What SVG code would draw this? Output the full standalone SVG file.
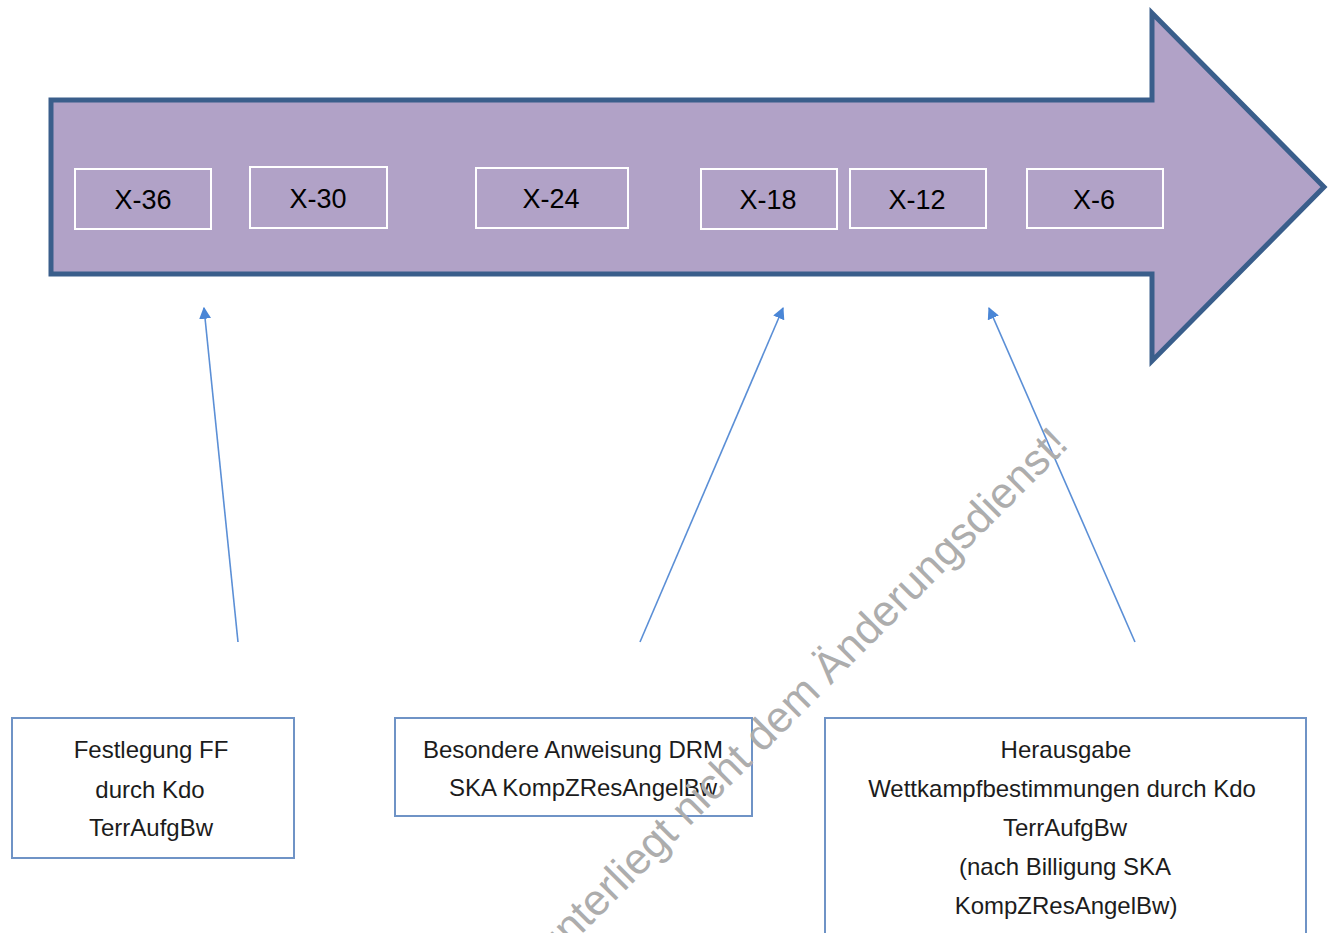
<svg xmlns="http://www.w3.org/2000/svg" width="1328" height="933" viewBox="0 0 1328 933">
<defs>
<style>
.arrowShape{fill:#b1a2c7;stroke:#3a5e8b;stroke-width:5;stroke-linejoin:miter}
.xbox{fill:none;stroke:#ffffff;stroke-width:2}
.xlbl{font-family:"Liberation Sans",Arial,sans-serif;font-size:27px;fill:#000;text-anchor:middle}
.nbox{fill:#ffffff;stroke:#6f93c6;stroke-width:2}
.ntxt{font-family:"Liberation Sans",Arial,sans-serif;font-size:24px;fill:#1c1c1c;text-anchor:middle}
.conn{stroke:#5b8fd6;stroke-width:1.6;fill:none}
.wm{font-family:"Liberation Sans",Arial,sans-serif;font-size:43.5px;fill:#adadad}
</style>
<marker id="ah" viewBox="0 0 10 10" refX="9" refY="5" markerWidth="12" markerHeight="12" markerUnits="userSpaceOnUse" orient="auto">
<path d="M0,0 L10,5 L0,10 Z" fill="#4a86d6"/>
</marker>
</defs>
<rect width="1328" height="933" fill="#ffffff"/>
<g id="timeline">
<path class="arrowShape" d="M51,100 L1152,100 L1152,13 L1324,187 L1152,361 L1152,274 L51,274 Z"/>
</g>
<g id="x36"><rect class="xbox" x="75" y="169" width="136" height="60"/><text class="xlbl" x="143" y="209">X-36</text></g>
<g id="x30"><rect class="xbox" x="250" y="167" width="137" height="61"/><text class="xlbl" x="318" y="208">X-30</text></g>
<g id="x24"><rect class="xbox" x="476" y="168" width="152" height="60"/><text class="xlbl" x="551" y="208">X-24</text></g>
<g id="x18"><rect class="xbox" x="701" y="169" width="136" height="60"/><text class="xlbl" x="768" y="209">X-18</text></g>
<g id="x12"><rect class="xbox" x="850" y="169" width="136" height="59"/><text class="xlbl" x="917" y="209">X-12</text></g>
<g id="x6"><rect class="xbox" x="1027" y="169" width="136" height="59"/><text class="xlbl" x="1094" y="209">X-6</text></g>
<g id="connectors">
<line class="conn" x1="238" y1="642" x2="204" y2="308" marker-end="url(#ah)"/>
<line class="conn" x1="640" y1="642" x2="783" y2="308" marker-end="url(#ah)"/>
<line class="conn" x1="1135" y1="642" x2="989" y2="308" marker-end="url(#ah)"/>
</g>
<g id="festlegung">
<rect class="nbox" x="12" y="718" width="282" height="140"/>
<text class="ntxt" x="151" y="758">Festlegung FF</text>
<text class="ntxt" x="150" y="798">durch Kdo</text>
<text class="ntxt" x="151" y="836">TerrAufgBw</text>
</g>
<g id="anweisung">
<rect class="nbox" x="395" y="718" width="357" height="98"/>
<text class="ntxt" x="573" y="758">Besondere Anweisung DRM</text>
<text class="ntxt" x="583" y="796">SKA KompZResAngelBw</text>
</g>
<g id="herausgabe">
<rect class="nbox" x="825" y="718" width="481" height="230"/>
<text class="ntxt" x="1066" y="758">Herausgabe</text>
<text class="ntxt" x="1062" y="797">Wettkampfbestimmungen durch Kdo</text>
<text class="ntxt" x="1065" y="836">TerrAufgBw</text>
<text class="ntxt" x="1065" y="875">(nach Billigung SKA</text>
<text class="ntxt" x="1066" y="914">KompZResAngelBw)</text>
</g>
<g id="watermark">
<text class="wm" transform="translate(1070,446) rotate(-45)" text-anchor="end">unterliegt nicht dem Änderungsdienst!</text>
</g>
</svg>
